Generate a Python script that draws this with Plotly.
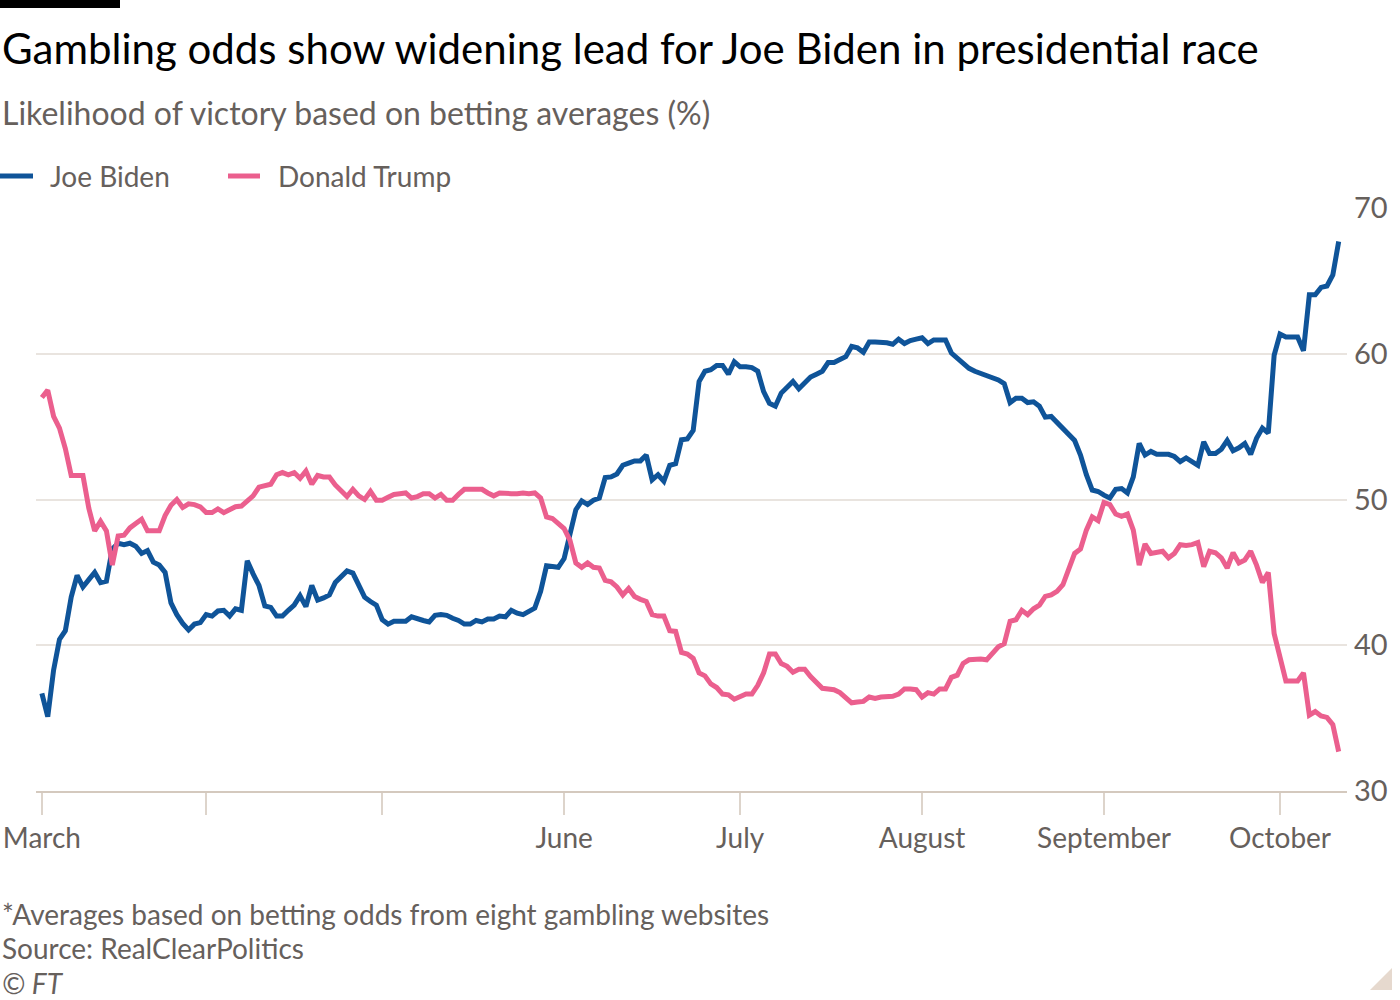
import pandas as pd
import plotly.graph_objects as go

# ---------------- data ----------------
start_date = "2020-03-04"
end_date = "2020-10-11"

biden_values = [
    # March 4-31
    36.7, 35.1, 38.3, 40.4, 41.0, 43.3, 44.8, 44.0, 44.5, 45.0, 44.3, 44.4, 46.6, 47.0,
    46.9, 47.0, 46.8, 46.3, 46.5, 45.7, 45.5, 45.0, 42.9, 42.1, 41.5, 41.05, 41.45, 41.55,
    # April
    42.1, 42.0, 42.35, 42.4, 42.0, 42.5, 42.4, 45.8, 44.9, 44.1, 42.7, 42.6, 42.0, 42.0, 42.4,
    42.75, 43.4, 42.65, 44.1, 43.1, 43.25, 43.45, 44.3, 44.7, 45.1, 44.95, 44.1, 43.3, 43.0, 42.75,
    # May
    41.75, 41.45, 41.65, 41.65, 41.65, 41.95, 41.8, 41.7, 41.6, 42.05, 42.1, 42.05, 41.85, 41.7,
    41.45, 41.45, 41.7, 41.6, 41.8, 41.8, 42.0, 41.95, 42.4, 42.2, 42.1, 42.3, 42.55, 43.7,
    45.45, 45.4, 45.35,
    # June
    45.95, 47.55, 49.3, 49.9, 49.65, 49.95, 50.1, 51.5, 51.55, 51.75, 52.35, 52.5, 52.65, 52.65,
    53.05, 51.35, 51.7, 51.25, 52.35, 52.45, 54.1, 54.15, 54.75, 58.1, 58.8, 58.9, 59.2, 59.2,
    58.6, 59.45,
    # July
    59.1, 59.1, 59.05, 58.8, 57.4, 56.6, 56.4, 57.3, 57.7, 58.1, 57.6, 58.0, 58.4, 58.6, 58.8,
    59.4, 59.4, 59.6, 59.8, 60.5, 60.4, 60.1, 60.8, 60.8, 60.8, 60.75, 60.65, 61.0, 60.7, 60.9, 61.0,
    # August
    61.1, 60.7, 60.95, 60.95, 60.95, 60.05, 59.7, 59.35, 59.0, 58.8, 58.65, 58.55, 58.35, 58.2,
    57.95, 56.65, 56.95, 56.95, 56.65, 56.7, 56.4, 55.65, 55.7, 55.3, 54.95, 54.5, 54.05, 53.05,
    51.7, 50.65, 50.55,
    # September
    50.3, 50.1, 50.7, 50.75, 50.45, 51.55, 53.85, 53.05, 53.3, 53.1, 53.1, 53.1, 52.95, 52.6,
    52.85, 52.6, 52.35, 53.95, 53.15, 53.15, 53.45, 54.05, 53.35, 53.55, 53.85, 53.1, 54.2, 54.9,
    54.55, 59.9,
    # October 1-11
    61.35, 61.15, 61.15, 61.15, 60.2, 64.05, 64.05, 64.55, 64.65, 65.4, 67.7,
]

trump_values = [
    # March 4-31
    57.0, 57.5, 55.7, 54.9, 53.5, 51.65, 51.65, 51.65, 49.4, 47.85, 48.5, 47.85, 45.5, 47.5,
    47.55, 48.05, 48.35, 48.65, 47.85, 47.85, 47.85, 48.9, 49.6, 50.0, 49.45, 49.7, 49.65, 49.5,
    # April
    49.1, 49.1, 49.35, 49.1, 49.3, 49.5, 49.55, 49.9, 50.25, 50.85, 50.95, 51.05, 51.7, 51.85,
    51.7, 51.85, 51.45, 51.95, 51.05, 51.65, 51.55, 51.55, 51.0, 50.6, 50.2, 50.7, 50.25, 50.0,
    50.55, 49.95,
    # May
    49.95, 50.15, 50.35, 50.4, 50.45, 50.1, 50.2, 50.4, 50.4, 50.1, 50.35, 49.95, 49.95, 50.35,
    50.7, 50.7, 50.7, 50.7, 50.45, 50.25, 50.45, 50.4, 50.4, 50.4, 50.45, 50.4, 50.45, 50.1,
    48.8, 48.7, 48.4,
    # June
    48.0, 47.2, 45.65, 45.35, 45.65, 45.35, 45.3, 44.45, 44.35, 44.0, 43.45, 43.9, 43.35, 43.15,
    43.0, 42.1, 42.0, 42.0, 41.0, 40.95, 39.5, 39.4, 39.1, 38.1, 37.9, 37.35, 37.1, 36.65, 36.6, 36.3,
    # July
    36.45, 36.65, 36.65, 37.25, 38.1, 39.4, 39.4, 38.75, 38.55, 38.15, 38.35, 38.35, 37.85, 37.5,
    37.05, 37.0, 36.95, 36.75, 36.4, 36.05, 36.1, 36.15, 36.45, 36.35, 36.45, 36.45, 36.5, 36.65,
    37.0, 37.0, 36.95,
    # August
    36.45, 36.75, 36.65, 37.0, 37.0, 37.8, 37.95, 38.75, 39.0, 39.05, 39.05, 39.0, 39.45, 39.9,
    40.1, 41.65, 41.75, 42.4, 42.1, 42.5, 42.75, 43.35, 43.45, 43.7, 44.15, 45.3, 46.3, 46.6,
    47.9, 48.8, 48.55,
    # September
    49.8, 49.65, 49.0, 48.85, 49.0, 47.9, 45.5, 46.95, 46.3, 46.35, 46.45, 46.0, 46.3, 46.9,
    46.85, 46.9, 47.05, 45.4, 46.45, 46.35, 46.0, 45.3, 46.35, 45.65, 45.85, 46.45, 45.5, 44.3,
    45.0, 40.8,
    # October 1-11
    39.25, 37.55, 37.55, 37.55, 38.1, 35.2, 35.45, 35.15, 35.05, 34.55, 32.7,
]

series_names = ["Joe Biden", "Donald Trump"]
tick_dates = ["2020-03-04", "2020-04-01", "2020-05-01", "2020-06-01",
              "2020-07-01", "2020-08-01", "2020-09-01", "2020-10-01"]
tick_labels = ["March", "", "", "June", "July", "August", "September", "October"]
y_ticks = [30, 40, 50, 60, 70]

dates = pd.date_range(start_date, end_date, freq="D")
assert len(dates) == len(biden_values) == len(trump_values), (len(dates), len(biden_values), len(trump_values))

# ---------------- styling ----------------
BLUE = "#0f5499"
PINK = "#eb5f8e"
GREY = "#66605c"
FONT = "Lato"

W, H = 1400, 1000
L, R, T, B = 36, 53, 208, 209
PW, PH = W - L - R, H - T - B


def px(x):
    return (x - L) / PW


def py(y):
    return (H - B - y) / PH


fig = go.Figure()
for name, vals, col in [(series_names[0], biden_values, BLUE), (series_names[1], trump_values, PINK)]:
    fig.add_trace(go.Scatter(x=dates, y=vals, name=name, mode="lines",
                             line=dict(color=col, width=5), showlegend=False))

fig.update_layout(
    width=W, height=H,
    margin=dict(l=L, r=R, t=T, b=B, autoexpand=False),
    paper_bgcolor="white", plot_bgcolor="white",
    font=dict(family=FONT, color=GREY, size=28),
    showlegend=False,
    xaxis=dict(type="date", range=["2020-03-03", "2020-10-12 10:00"],
               tickvals=tick_dates, ticktext=tick_labels, automargin=False,
               showgrid=False, zeroline=False,
               showline=True, linecolor="#d4c9be", linewidth=1.5,
               ticks="outside", ticklen=22, tickwidth=1.5, tickcolor="#ddd4cb",
               tickfont=dict(size=28, color=GREY)),
    yaxis=dict(range=[30, 70], tickvals=y_ticks, side="right", automargin=False,
               showgrid=True, gridcolor="#e9e4df", gridwidth=1.5, zeroline=False,
               showline=False, ticks="", ticklabelstandoff=6,
               tickfont=dict(size=29, color=GREY)),
)

annotations = [
    dict(text="Gambling odds show widening lead for Joe Biden in presidential race",
         x=px(0), y=py(48), font=dict(size=42, color="#000000")),
    dict(text="Likelihood of victory based on betting averages (%)",
         x=px(0), y=py(113), font=dict(size=32, color=GREY)),
    dict(text=series_names[0], x=px(48), y=py(176), font=dict(size=28, color=GREY)),
    dict(text=series_names[1], x=px(276), y=py(176), font=dict(size=28, color=GREY)),
    dict(text="*Averages based on betting odds from eight gambling websites",
         x=px(0), y=py(914), font=dict(size=28, color=GREY)),
    dict(text="Source: RealClearPolitics",
         x=px(0), y=py(948), font=dict(size=28, color=GREY)),
    dict(text="<i>© FT</i>",
         x=px(0), y=py(983), font=dict(size=28, color=GREY)),
]
for a in annotations:
    fig.add_annotation(xref="paper", yref="paper", xanchor="left", yanchor="middle",
                       showarrow=False, **a)

# legend keys
for x0, x1, col in [(0, 33, BLUE), (228, 260, PINK)]:
    fig.add_shape(type="line", xref="paper", yref="paper",
                  x0=px(x0), x1=px(x1), y0=py(176), y1=py(176),
                  line=dict(color=col, width=5))

fig.add_shape(type="rect", xref="paper", yref="paper",
              x0=px(0), x1=px(120), y0=py(8), y1=py(0),
              fillcolor="#000000", line=dict(width=0), layer="above")
fig.add_shape(type="path", xref="paper", yref="paper",
              path=f"M {px(1370)},{py(990)} L {px(1392)},{py(990)} L {px(1392)},{py(968)} Z",
              fillcolor="#e6d9ce", line=dict(width=0), layer="above")

# remove the default page margin so the 1400x1000 figure fills the window
fig.write_html("out.html", config={"displayModeBar": False},
               post_script="document.body.style.margin='0px';document.body.style.overflow='hidden';")
